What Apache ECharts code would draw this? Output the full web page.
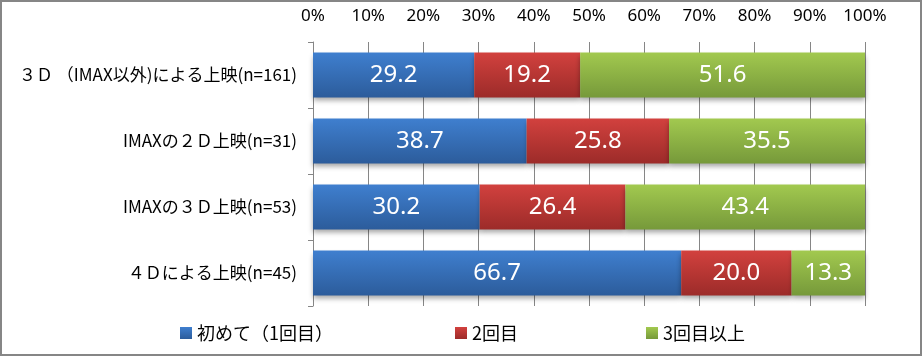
<!DOCTYPE html>
<html><head><meta charset="utf-8">
<script src="https://cdn.jsdelivr.net/npm/echarts@6/dist/echarts.min.js"></script>
<style>html,body{margin:0;padding:0;background:#fff}#c{width:924px;height:357px}</style>
</head><body><div id="c"></div>
<script>
const categories = ['３Ｄ （IMAX以外)による上映(n=161)', 'IMAXの２Ｄ上映(n=31)', 'IMAXの３Ｄ上映(n=53)', '４Ｄによる上映(n=45)'];
const seriesNames = ['初めて（1回目）', '2回目', '3回目以上'];
const firstTime = [29.2, 38.7, 30.2, 66.7];
const secondTime = [19.2, 25.8, 26.4, 20.0];
const thirdPlus = [51.6, 35.5, 43.4, 13.3];
const tickLabels = ['0%','10%','20%','30%','40%','50%','60%','70%','80%','90%','100%'];

function grad(top, bottom) {
  return new echarts.graphic.LinearGradient(0, 0, 0, 1, [
    {offset: 0, color: top}, {offset: 1, color: bottom}
  ]);
}
const colors = [grad('#3F7FCF', '#2C5C9B'), grad('#D2413E', '#9C2B29'), grad('#A2C94F', '#76993A')];
const values = [firstTime, secondTime, thirdPlus];

const chart = echarts.init(document.getElementById('c'), null, {renderer: 'canvas'});
const font = '"Noto Sans CJK JP", "Noto Sans", sans-serif';
const legendLefts = [175, 450, 641];
chart.setOption({
  animation: false,
  textStyle: {fontFamily: font},
  grid: {left: 313, right: 59, top: 42, bottom: 51, containLabel: false},
  graphic: [{type: 'rect', shape: {x: 1, y: 1, width: 920, height: 354}, style: {fill: 'none', stroke: '#868686', lineWidth: 2}, silent: true}],
  legend: seriesNames.map((n, i) => ({
    data: [n], left: legendLefts[i], top: 319, itemWidth: 12, itemHeight: 12, itemGap: 6,
    icon: 'rect', textStyle: {fontSize: 18, color: '#000', fontFamily: font}, selectedMode: false
  })),
  xAxis: {
    type: 'value', position: 'top', min: 0, max: 100, interval: 10,
    axisLine: {show: false}, axisTick: {show: false},
    splitLine: {show: true, lineStyle: {color: '#868686', width: 1}},
    axisLabel: {margin: 17, fontSize: 17, color: '#000', fontFamily: 'Noto Sans, sans-serif',
      formatter: v => tickLabels[Math.round(v / 10)]}
  },
  yAxis: {
    type: 'category', inverse: true, data: categories,
    axisLine: {show: true, lineStyle: {color: '#868686', width: 1}},
    axisTick: {show: true, length: 5, lineStyle: {color: '#868686'}},
    axisLabel: {margin: 16, fontSize: 17, color: '#000', fontFamily: font}
  },
  series: values.map((vals, i) => ({
    name: seriesNames[i], type: 'bar', stack: 'total', data: vals, barWidth: 45,
    itemStyle: {color: colors[i], shadowColor: 'rgba(0,0,0,0.35)', shadowBlur: 5, shadowOffsetY: 3},
    label: {show: true, position: 'inside', color: '#fff', fontSize: 24, fontFamily: 'Noto Sans, sans-serif',
      formatter: p => p.value.toFixed(1)}
  }))
});
</script></body></html>
